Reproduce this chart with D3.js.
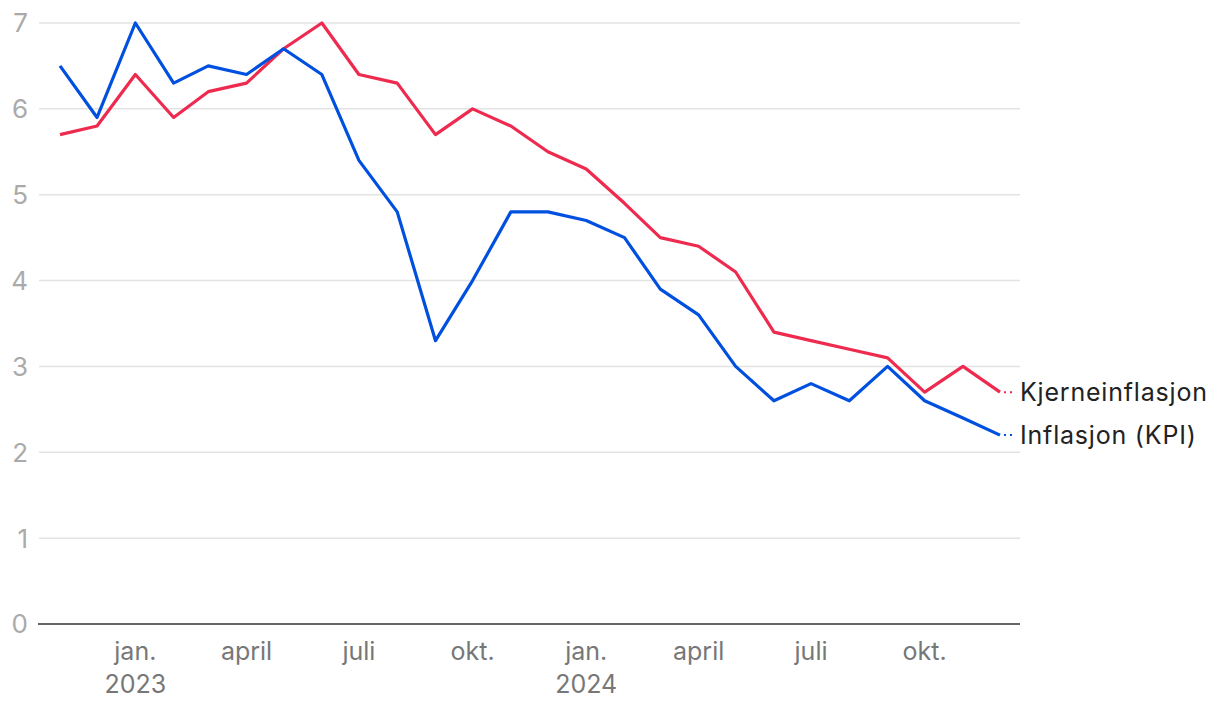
<!DOCTYPE html>
<html><head><meta charset="utf-8">
<script src="https://cdn.jsdelivr.net/npm/d3@7"></script>
<style>
html,body{margin:0;padding:0;background:#fff;}
svg text{font-family:Inter, "Noto Sans", sans-serif;}
</style></head>
<body><svg id="c" width="1220" height="708"></svg>
<script>
const months = ["2022-11","2022-12","2023-01","2023-02","2023-03","2023-04","2023-05","2023-06","2023-07","2023-08","2023-09","2023-10","2023-11","2023-12","2024-01","2024-02","2024-03","2024-04","2024-05","2024-06","2024-07","2024-08","2024-09","2024-10","2024-11","2024-12"];
const kpi  = [6.5,5.9,7.0,6.3,6.5,6.4,6.7,6.4,5.4,4.8,3.3,4.0,4.8,4.8,4.7,4.5,3.9,3.6,3.0,2.6,2.8,2.6,3.0,2.6,2.4,2.2];
const kjerne = [5.7,5.8,6.4,5.9,6.2,6.3,6.7,7.0,6.4,6.3,5.7,6.0,5.8,5.5,5.3,4.9,4.5,4.4,4.1,3.4,3.3,3.2,3.1,2.7,3.0,2.7];
const yTicks = [0,1,2,3,4,5,6,7];
const xTicks = [["2023-01","jan.","2023"],["2023-04","april",""],["2023-07","juli",""],["2023-10","okt.",""],["2024-01","jan.","2024"],["2024-04","april",""],["2024-07","juli",""],["2024-10","okt.",""]];
const seriesNames = ["Kjerneinflasjon","Inflasjon (KPI)"];
const colors = ["#ee2a4f","#0050e0"];

const parse = d3.timeParse("%Y-%m");
const dates = months.map(parse);
const svg = d3.select("#c");
const x = d3.scaleTime().domain([dates[0], dates[dates.length-1]]).range([60,1000]);
const y = d3.scaleLinear().domain([0,7]).range([624,23]);

svg.append("g").selectAll("line").data(yTicks.filter(t=>t>0)).join("line")
  .attr("x1",39).attr("x2",1020).attr("y1",d=>y(d)).attr("y2",d=>y(d))
  .attr("stroke","#e3e3e3").attr("stroke-width",1.5);
svg.append("g").selectAll("text").data(yTicks).join("text")
  .attr("x",28).attr("y",d=>y(d)).attr("dy","0.36em").attr("text-anchor","end")
  .attr("fill","#aaaaaa").attr("font-size",26).text(d=>d);
svg.append("line").attr("x1",38).attr("x2",1020).attr("y1",y(0)).attr("y2",y(0))
  .attr("stroke","#333").attr("stroke-width",1.5);
const xl = svg.append("g").selectAll("g").data(xTicks).join("g")
  .attr("transform",d=>`translate(${x(parse(d[0]))},0)`);
xl.append("text").attr("y",660).attr("text-anchor","middle").attr("fill","#777").attr("font-size",25).text(d=>d[1]);
xl.append("text").attr("y",693).attr("text-anchor","middle").attr("fill","#777").attr("font-size",25).text(d=>d[2]);

const line = d3.line().x((d,i)=>x(dates[i])).y(d=>y(d));
const data = [kjerne,kpi];
data.forEach((s,k)=>{
  svg.append("path").attr("d",line(s)).attr("fill","none").attr("stroke",colors[k])
    .attr("stroke-width",3.2).attr("stroke-linejoin","round");
  const last = s[s.length-1];
  const lx = x(dates[dates.length-1]);
  svg.append("line").attr("x1",lx+4).attr("x2",lx+14).attr("y1",y(last)).attr("y2",y(last))
    .attr("stroke",colors[k]).attr("stroke-width",2).attr("stroke-dasharray","2,4");
  svg.append("text").attr("x",lx+20).attr("y",y(last)).attr("dy","0.36em")
    .attr("fill","#222").attr("font-size",25).attr("letter-spacing",0.8).text(seriesNames[k]);
});
</script></body></html>
